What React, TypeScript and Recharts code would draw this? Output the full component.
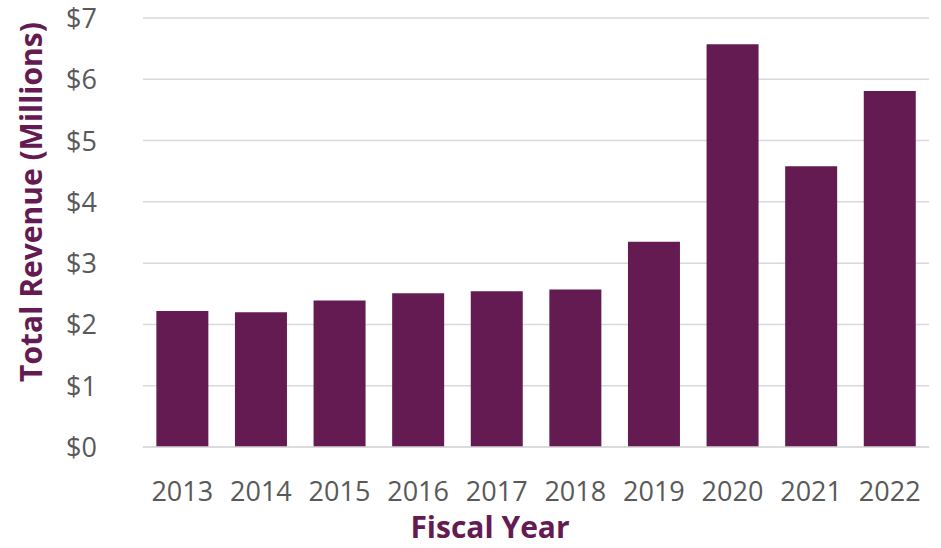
import { BarChart, Bar, XAxis, YAxis, CartesianGrid } from 'recharts'

// fiscal years and total revenue (millions USD)
const years = ['2013', '2014', '2015', '2016', '2017', '2018', '2019', '2020', '2021', '2022']
const revenue = [2.22, 2.2, 2.39, 2.51, 2.54, 2.57, 3.35, 6.57, 4.58, 5.81]
const yTicks = [0, 1, 2, 3, 4, 5, 6, 7]

const data = years.map((year, i) => ({ year, revenue: revenue[i] }))

const FONT = '"Open Sans", "Noto Sans", sans-serif'
const PURPLE = '#641b51'
const GRAY = '#595959'

const XTick = (props: any) => {
  const { x, y, payload } = props
  return (
    <text x={x} y={y + 46} textAnchor="middle" fill={GRAY} fontSize={27} fontFamily={FONT}>
      {payload.value}
    </text>
  )
}

const YTick = (props: any) => {
  const { x, y, payload } = props
  return (
    <text x={x - 38} y={y + 10} textAnchor="end" fill={GRAY} fontSize={27} fontFamily={FONT}>
      {'$' + payload.value}
    </text>
  )
}

export default function App() {
  return (
    <div style={{ position: 'absolute', left: 0, top: 0, background: '#fff' }}>
      <BarChart
        width={941}
        height={548}
        data={data}
        margin={{ top: 18, right: 12, left: 0, bottom: 0 }}
        barCategoryGap="17%"
      >
        <CartesianGrid vertical={false} stroke="#d9d9d9" strokeWidth={1.5} />
        <XAxis
          dataKey="year"
          height={101}
          axisLine={{ stroke: '#d9d9d9', strokeWidth: 1.5 }}
          tickLine={false}
          tick={<XTick />}
          interval={0}
          label={{
            content: () => (
              <text x={490} y={538} textAnchor="middle" fill={PURPLE} fontSize={30} fontWeight="bold" fontFamily={FONT}>
                Fiscal Year
              </text>
            ),
          }}
        />
        <YAxis
          width={143}
          domain={[0, 7]}
          ticks={yTicks}
          axisLine={false}
          tickLine={false}
          tick={<YTick />}
          label={{
            content: () => (
              <text
                x={42}
                y={202}
                transform="rotate(-90 42 202)"
                textAnchor="middle"
                fill={PURPLE}
                fontSize={30}
                fontWeight="bold"
                fontFamily={FONT}
              >
                Total Revenue (Millions)
              </text>
            ),
          }}
        />
        <Bar dataKey="revenue" fill={PURPLE} isAnimationActive={false} />
      </BarChart>
    </div>
  )
}
